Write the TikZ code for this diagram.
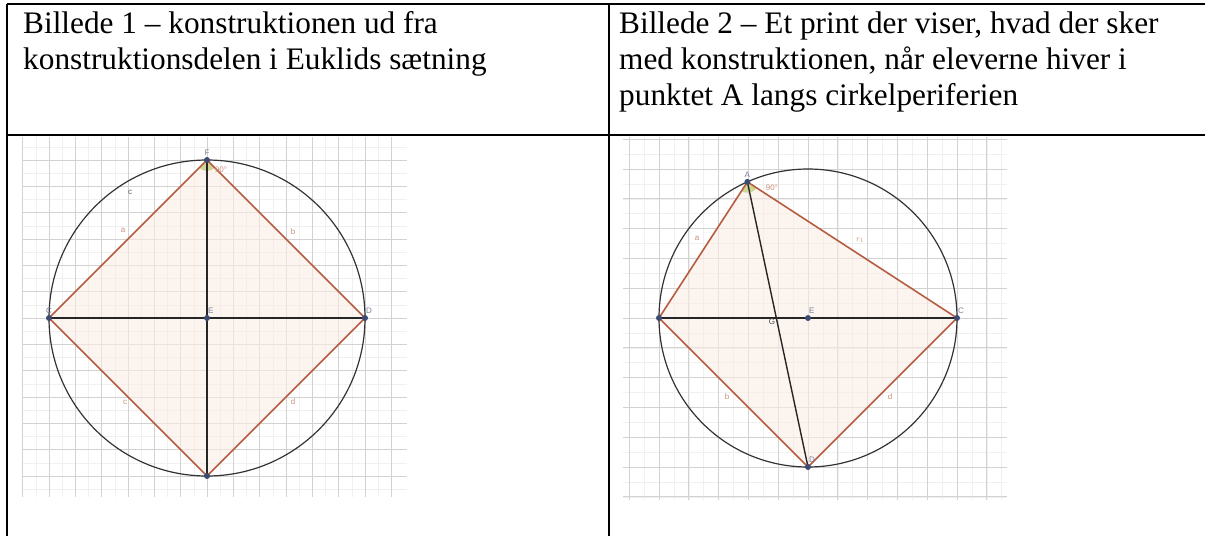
\documentclass[tikz,border=0pt]{standalone}
\usepackage{fontspec}
\setmainfont{Liberation Serif}
\newfontfamily\ggbfont{Liberation Sans}
\usetikzlibrary{calc}
\definecolor{sidebrown}{RGB}{182,92,64}
\definecolor{fillpink}{RGB}{250,236,228}
\definecolor{ptblue}{RGB}{60,75,115}
\definecolor{anglegreen}{RGB}{196,206,130}

\begin{document}
\begin{tikzpicture}[x=1pt,y=-1pt,
  tablerule/.style={line width=1.5pt},
  headtext/.style={anchor=base west, inner sep=0pt, font=\fontsize{31.3}{36}\selectfont},
  gridmajor/.style={gray!35, line width=0.8pt},
  gridminor/.style={gray!12, line width=0.5pt},
  rim/.style={black!80, line width=1.2pt},
  side/.style={sidebrown, line width=1.6pt},
  diam/.style={black!85, line width=1.4pt},
  pt/.style={circle, fill=ptblue, inner sep=0pt, minimum size=6pt},
  ptlabel/.style={font=\ggbfont\fontsize{8}{8}\selectfont, text=ptblue!70, inner sep=1pt},
  sidelabel/.style={font=\ggbfont\fontsize{8}{8}\selectfont, text=sidebrown!70, inner sep=1pt}]
\useasboundingbox (0,0) rectangle (1205,536);

% table rules
\draw[tablerule] (7,4) -- (1205,4);
\draw[tablerule] (7,4) -- (7,536);
\draw[tablerule] (609,4) -- (609,536);
\draw[tablerule] (7,135) -- (1205,135);

% header cells
\node[headtext] (h1a) at (23,33) {Billede 1 – konstruktionen ud fra};
\node[headtext] (h1b) at (23,69) {konstruktionsdelen i Euklids sætning};
\node[headtext] (h2a) at (619,33) {Billede 2 – Et print der viser, hvad der sker};
\node[headtext] (h2b) at (619,69) {med konstruktionen, når eleverne hiver i};
\node[headtext] (h2c) at (619,105) {punktet A langs cirkelperiferien};

% Billede 1
\begin{scope}[shift={(207,318)}]
\begin{scope}
\clip (-185,-181) rectangle (200,179);
\foreach \k in {-14,...,14} {
  \draw[gridminor] (\k*13.17,-181) -- (\k*13.17,179);
  \draw[gridminor] (-185,\k*13.17) -- (200,\k*13.17);
}
\foreach \k in {-7,...,7} {
  \draw[gridmajor] (\k*26.33,-181) -- (\k*26.33,179);
  \draw[gridmajor] (-185,\k*26.33) -- (200,\k*26.33);
}
\end{scope}
\coordinate (E1) at (0,0);
\coordinate (C1) at (-158,0);
\coordinate (D1) at (158,0);
\coordinate (F1) at (0,-158);
\coordinate (G1) at (0,158);
\fill[fillpink, fill opacity=0.6] (C1) -- (F1) -- (D1) -- (G1) -- cycle;
\fill[anglegreen, fill opacity=0.8] (F1) -- ++(45:11) arc[start angle=45, end angle=135, radius=11] -- cycle;
\draw[rim] (E1) circle[radius=158];
\draw[side] (C1) -- (F1) -- (D1) -- (G1) -- cycle;
\draw[diam] (C1) -- (D1);
\draw[diam] (F1) -- (G1);
\node[pt] (pC1) at (C1) {};
\node[pt] (pD1) at (D1) {};
\node[pt] (pF1) at (F1) {};
\node[pt] (pG1) at (G1) {};
\node[pt] (pE1) at (E1) {};
\node[ptlabel, above] (lF1) at (pF1.north) {F};
\node[ptlabel, above right] (lE1) at (pE1.north) {E};
\node[ptlabel, above] (lC1) at (pC1.north) {C};
\node[ptlabel, above right] (lD1) at (pD1.north) {D};
\node[sidelabel] (ang1) at (14,-148) {90°};
\node[sidelabel] (sa1) at (-84,-88) {a};
\node[sidelabel] (sb1) at (86,-86) {b};
\node[sidelabel] (sc1) at (-82,84) {c};
\node[sidelabel] (sd1) at (86,84) {d};
\node[sidelabel, text=black!60] (kc1) at (-77,-126) {c};
\end{scope}

% Billede 2
\begin{scope}[shift={(808,318)}]
\begin{scope}
\clip (-185,-181) rectangle (199,182);
\foreach \k in {-14,...,14} {
  \draw[gridminor] (\k*14.9,-181) -- (\k*14.9,182);
  \draw[gridminor] (-185,\k*14.9) -- (199,\k*14.9);
}
\foreach \k in {-7,...,7} {
  \draw[gridmajor] (\k*29.8,-181) -- (\k*29.8,182);
  \draw[gridmajor] (-185,\k*29.8) -- (199,\k*29.8);
}
\end{scope}
\coordinate (E2) at (0,0);
\coordinate (B2) at (-149,0);
\coordinate (C2) at (149,0);
\coordinate (A2) at (246:149);
\coordinate (D2) at (0,149);
\coordinate (G2) at ($(A2)!0.4774!(D2)$);
\fill[fillpink, fill opacity=0.6] (B2) -- (A2) -- (C2) -- (D2) -- cycle;
\fill[anglegreen, fill opacity=0.8] (A2) -- ++(33:11) arc[start angle=33, end angle=123, radius=11] -- cycle;
\draw[rim] (E2) circle[radius=149];
\draw[side] (B2) -- (A2) -- (C2) -- (D2) -- cycle;
\draw[diam] (B2) -- (C2);
\draw[diam] (A2) -- (D2);
\node[pt] (pA2) at (A2) {};
\node[pt] (pB2) at (B2) {};
\node[pt] (pC2) at (C2) {};
\node[pt] (pD2) at (D2) {};
\node[pt] (pE2) at (E2) {};
\node[ptlabel, above] (lA2) at (pA2.north) {A};
\node[ptlabel, above right] (lE2) at (pE2.north) {E};
\node[ptlabel, above right] (lC2) at (pC2.north) {C};
\node[ptlabel, above right] (lD2) at (pD2.north) {D};
\node[ptlabel, below left, text=black!70] (lG2) at (G2) {G};
\node[sidelabel] (ang2) at (-36,-130) {90°};
\node[sidelabel] (sa2) at (-111,-80) {a};
\node[sidelabel] (sr2) at (52,-78) {$r_1$};
\node[sidelabel] (sb2) at (-81,79) {b};
\node[sidelabel] (sd2) at (82,79) {d};
\end{scope}
\end{tikzpicture}
\end{document}
